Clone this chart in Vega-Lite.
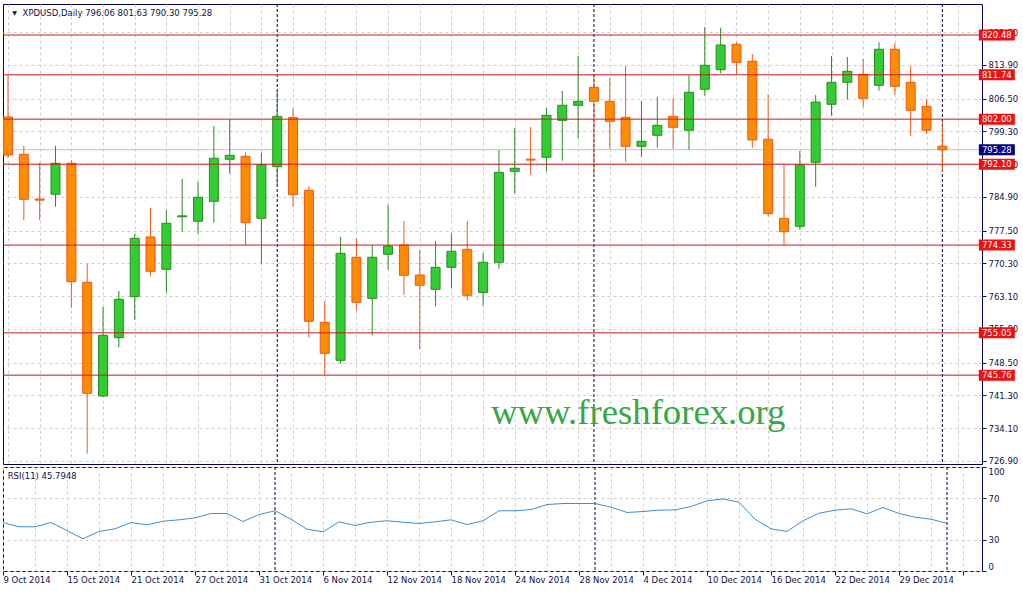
{
  "$schema": "https://vega.github.io/schema/vega-lite/v6.json",
  "padding": {"left": 2, "top": 3, "right": 0, "bottom": 0},
  "background": "white",
  "bounds": "flush",
  "spacing": 3,
  "config": {
    "view": {"stroke": "#000050", "strokeWidth": 1},
    "axis": {
      "labelFont": "DejaVu Sans",
      "labelFontSize": 8.5,
      "labelColor": "#10104a",
      "tickColor": "#10104a",
      "gridColor": "#cfcfcf",
      "gridDash": [3, 3],
      "gridWidth": 1,
      "labelOverlap": false
    }
  },
  "datasets": {
    "bars": [
      {"i": 0, "date": "2014-10-09", "o": 802.47, "h": 811.69, "l": 793.46, "c": 794.12, "rsi": 46.6},
      {"i": 1, "date": "2014-10-10", "o": 794.27, "h": 796.10, "l": 779.78, "c": 784.39, "rsi": 42.5},
      {"i": 2, "date": "2014-10-13", "o": 784.45, "h": 792.43, "l": 779.84, "c": 784.20, "rsi": 42.5},
      {"i": 3, "date": "2014-10-14", "o": 785.49, "h": 796.10, "l": 782.76, "c": 792.30, "rsi": 46.6},
      {"i": 4, "date": "2014-10-15", "o": 792.30, "h": 792.96, "l": 760.58, "c": 766.29, "rsi": 38.9},
      {"i": 5, "date": "2014-10-16", "o": 766.16, "h": 770.24, "l": 728.51, "c": 741.77, "rsi": 31.0},
      {"i": 6, "date": "2014-10-17", "o": 741.18, "h": 760.73, "l": 741.00, "c": 754.51, "rsi": 38.0},
      {"i": 7, "date": "2014-10-20", "o": 753.99, "h": 764.25, "l": 751.94, "c": 762.42, "rsi": 40.6},
      {"i": 8, "date": "2014-10-21", "o": 762.99, "h": 776.70, "l": 757.94, "c": 775.82, "rsi": 46.6},
      {"i": 9, "date": "2014-10-22", "o": 776.11, "h": 782.54, "l": 767.47, "c": 768.57, "rsi": 44.4},
      {"i": 10, "date": "2014-10-23", "o": 769.01, "h": 782.04, "l": 763.87, "c": 779.12, "rsi": 47.9},
      {"i": 11, "date": "2014-10-24", "o": 780.55, "h": 788.85, "l": 777.27, "c": 780.75, "rsi": 49.2},
      {"i": 12, "date": "2014-10-27", "o": 779.56, "h": 788.26, "l": 776.83, "c": 784.83, "rsi": 51.1},
      {"i": 13, "date": "2014-10-28", "o": 783.95, "h": 800.49, "l": 779.25, "c": 793.40, "rsi": 55.3},
      {"i": 14, "date": "2014-10-29", "o": 793.18, "h": 801.96, "l": 790.01, "c": 794.05, "rsi": 55.3},
      {"i": 15, "date": "2014-10-30", "o": 793.84, "h": 794.63, "l": 774.35, "c": 779.25, "rsi": 47.6},
      {"i": 16, "date": "2014-10-31", "o": 780.22, "h": 794.63, "l": 770.24, "c": 791.99, "rsi": 54.3},
      {"i": 17, "date": "2014-11-03", "o": 791.55, "h": 808.03, "l": 787.16, "c": 802.62, "rsi": 57.9},
      {"i": 18, "date": "2014-11-04", "o": 802.31, "h": 804.38, "l": 782.76, "c": 785.40, "rsi": 49.8},
      {"i": 19, "date": "2014-11-05", "o": 786.37, "h": 787.31, "l": 753.99, "c": 757.59, "rsi": 40.2},
      {"i": 20, "date": "2014-11-06", "o": 757.37, "h": 762.05, "l": 745.73, "c": 750.56, "rsi": 37.7},
      {"i": 21, "date": "2014-11-07", "o": 749.02, "h": 776.11, "l": 748.36, "c": 772.53, "rsi": 47.3},
      {"i": 22, "date": "2014-11-10", "o": 771.65, "h": 775.89, "l": 760.01, "c": 761.76, "rsi": 43.8},
      {"i": 23, "date": "2014-11-11", "o": 762.64, "h": 774.35, "l": 754.51, "c": 771.65, "rsi": 46.9},
      {"i": 24, "date": "2014-11-12", "o": 772.31, "h": 783.14, "l": 768.92, "c": 774.13, "rsi": 48.3},
      {"i": 25, "date": "2014-11-13", "o": 774.35, "h": 779.62, "l": 763.43, "c": 767.69, "rsi": 46.9},
      {"i": 26, "date": "2014-11-14", "o": 767.76, "h": 773.25, "l": 751.44, "c": 765.50, "rsi": 45.7},
      {"i": 27, "date": "2014-11-17", "o": 764.62, "h": 775.23, "l": 760.88, "c": 769.45, "rsi": 47.3},
      {"i": 28, "date": "2014-11-18", "o": 769.45, "h": 776.99, "l": 764.84, "c": 772.97, "rsi": 49.2},
      {"i": 29, "date": "2014-11-19", "o": 773.41, "h": 779.62, "l": 762.20, "c": 763.30, "rsi": 44.7},
      {"i": 30, "date": "2014-11-20", "o": 763.92, "h": 772.59, "l": 761.02, "c": 770.55, "rsi": 48.3},
      {"i": 31, "date": "2014-11-21", "o": 770.55, "h": 795.22, "l": 769.14, "c": 790.32, "rsi": 57.9},
      {"i": 32, "date": "2014-11-24", "o": 790.54, "h": 800.05, "l": 785.62, "c": 791.20, "rsi": 57.9},
      {"i": 33, "date": "2014-11-25", "o": 793.20, "h": 800.27, "l": 789.79, "c": 793.00, "rsi": 59.1},
      {"i": 34, "date": "2014-11-26", "o": 793.62, "h": 804.45, "l": 790.45, "c": 802.84, "rsi": 63.9},
      {"i": 35, "date": "2014-11-27", "o": 801.74, "h": 808.18, "l": 792.87, "c": 805.04, "rsi": 64.9},
      {"i": 36, "date": "2014-11-28", "o": 805.04, "h": 815.87, "l": 797.79, "c": 805.92, "rsi": 64.9},
      {"i": 37, "date": "2014-12-01", "o": 808.99, "h": 811.85, "l": 790.01, "c": 805.92, "rsi": 64.9},
      {"i": 38, "date": "2014-12-02", "o": 805.92, "h": 811.04, "l": 795.50, "c": 801.52, "rsi": 61.4},
      {"i": 39, "date": "2014-12-03", "o": 802.40, "h": 813.74, "l": 792.65, "c": 796.03, "rsi": 56.3},
      {"i": 40, "date": "2014-12-04", "o": 796.03, "h": 805.98, "l": 793.75, "c": 797.13, "rsi": 57.2},
      {"i": 41, "date": "2014-12-05", "o": 798.45, "h": 806.86, "l": 795.72, "c": 800.64, "rsi": 58.5},
      {"i": 42, "date": "2014-12-08", "o": 802.62, "h": 806.64, "l": 795.50, "c": 800.21, "rsi": 58.8},
      {"i": 43, "date": "2014-12-09", "o": 799.55, "h": 811.63, "l": 795.29, "c": 807.89, "rsi": 62.0},
      {"i": 44, "date": "2014-12-10", "o": 808.55, "h": 822.24, "l": 807.15, "c": 813.83, "rsi": 67.5},
      {"i": 45, "date": "2014-12-11", "o": 812.86, "h": 822.08, "l": 812.07, "c": 818.28, "rsi": 69.4},
      {"i": 46, "date": "2014-12-12", "o": 818.44, "h": 818.88, "l": 811.85, "c": 814.48, "rsi": 66.2},
      {"i": 47, "date": "2014-12-15", "o": 814.70, "h": 816.31, "l": 795.72, "c": 797.42, "rsi": 49.8},
      {"i": 48, "date": "2014-12-16", "o": 797.57, "h": 807.45, "l": 780.72, "c": 781.23, "rsi": 40.6},
      {"i": 49, "date": "2014-12-17", "o": 780.22, "h": 792.08, "l": 774.28, "c": 777.27, "rsi": 38.0},
      {"i": 50, "date": "2014-12-18", "o": 778.46, "h": 795.00, "l": 777.71, "c": 791.92, "rsi": 48.3},
      {"i": 51, "date": "2014-12-19", "o": 792.52, "h": 807.30, "l": 787.16, "c": 805.76, "rsi": 55.6},
      {"i": 52, "date": "2014-12-22", "o": 805.26, "h": 815.87, "l": 802.75, "c": 810.09, "rsi": 58.5},
      {"i": 53, "date": "2014-12-23", "o": 810.09, "h": 815.65, "l": 806.27, "c": 812.51, "rsi": 59.8},
      {"i": 54, "date": "2014-12-24", "o": 811.85, "h": 815.21, "l": 804.73, "c": 806.58, "rsi": 55.0},
      {"i": 55, "date": "2014-12-26", "o": 809.43, "h": 818.88, "l": 808.25, "c": 817.34, "rsi": 61.1},
      {"i": 56, "date": "2014-12-29", "o": 817.34, "h": 818.66, "l": 807.37, "c": 809.21, "rsi": 55.3},
      {"i": 57, "date": "2014-12-30", "o": 810.09, "h": 813.67, "l": 798.36, "c": 803.94, "rsi": 51.7},
      {"i": 58, "date": "2014-12-31", "o": 804.82, "h": 806.36, "l": 798.80, "c": 799.55, "rsi": 49.8},
      {"i": 59, "date": "2015-01-02", "o": 796.06, "h": 801.63, "l": 790.30, "c": 795.28, "rsi": 45.79}
    ],
    "levels": [
      {"v": 820.48, "kind": "level"},
      {"v": 811.74, "kind": "level"},
      {"v": 802.00, "kind": "level"},
      {"v": 792.10, "kind": "level"},
      {"v": 774.33, "kind": "level"},
      {"v": 755.05, "kind": "level"},
      {"v": 745.76, "kind": "level"},
      {"v": 795.28, "kind": "price"}
    ],
    "seps": [{"i": 17}, {"i": 37}, {"i": 59}]
  },
  "vconcat": [
    {
      "width": 979,
      "height": 460,
      "layer": [
        {
          "data": {"name": "levels"},
          "transform": [{"filter": "datum.kind == 'price'"}],
          "mark": {"type": "rule", "color": "#c4c4c4", "strokeWidth": 1},
          "encoding": {
            "y": {
              "field": "v", "type": "quantitative", "title": null,
              "scale": {"domain": [726.24, 827.29], "nice": false, "zero": false},
              "axis": {
                "orient": "right", "title": null,
                "values": [726.9, 734.1, 741.3, 748.5, 755.9, 763.1, 770.3, 777.5, 784.9, 792.1, 799.3, 806.5, 813.9, 821.1],
                "tickCount": 100,
                "format": ".2f", "grid": true, "tickSize": 4, "labelPadding": 2, "domain": false,
                "labelOverlap": false, "labelFlush": false, "labelBound": false
              }
            }
          }
        },
        {
          "data": {"name": "seps"},
          "mark": {"type": "rule", "color": "#000040", "strokeWidth": 1, "strokeDash": [3, 2]},
          "encoding": {
            "x": {"field": "i", "type": "quantitative", "title": null, "scale": {"domain": [0, 61.1875], "nice": false, "zero": false}}
          }
        },
        {
          "data": {"name": "bars"},
          "mark": {"type": "rule", "strokeWidth": 1, "clip": true},
          "encoding": {
            "x": {
              "field": "i", "type": "quantitative", "title": null,
              "scale": {"domain": [0, 61.1875], "nice": false, "zero": false},
              "axis": {
                "title": null, "values": [0, 2, 4, 6, 8, 10, 12, 14, 16, 18, 20, 22, 24, 26, 28, 30, 32, 34, 36, 38, 40, 42, 44, 46, 48, 50, 52, 54, 56, 58, 60],
                "tickCount": 100,
                "grid": true, "labels": false, "ticks": false, "domain": false
              }
            },
            "y": {"field": "l", "type": "quantitative", "title": null, "scale": {"domain": [726.24, 827.29], "nice": false, "zero": false}},
            "y2": {"field": "h"},
            "color": {"condition": {"test": "datum.c >= datum.o", "value": "#2a8a22"}, "value": "#ea5a1c"}
          }
        },
        {
          "data": {"name": "bars"},
          "mark": {"type": "bar", "size": 9, "strokeWidth": 1, "clip": true},
          "encoding": {
            "x": {"field": "i", "type": "quantitative", "title": null, "scale": {"domain": [0, 61.1875], "nice": false, "zero": false}},
            "y": {"field": "o", "type": "quantitative", "title": null, "scale": {"domain": [726.24, 827.29], "nice": false, "zero": false}},
            "y2": {"field": "c"},
            "fill": {"condition": {"test": "datum.c >= datum.o", "value": "#33cc33"}, "value": "#ff8c00"},
            "stroke": {"condition": {"test": "datum.c >= datum.o", "value": "#2a8a22"}, "value": "#ea5a1c"}
          }
        },
        {
          "data": {"name": "levels"},
          "transform": [{"filter": "datum.kind == 'level'"}],
          "mark": {"type": "rule", "color": "#cc1a1a", "strokeWidth": 1},
          "encoding": {
            "y": {"field": "v", "type": "quantitative", "title": null, "scale": {"domain": [726.24, 827.29], "nice": false, "zero": false}}
          }
        },
        {
          "data": {"name": "levels"},
          "mark": {"type": "tick", "orient": "horizontal", "size": 36, "thickness": 11, "opacity": 1},
          "encoding": {
            "x": {"datum": 62.44, "type": "quantitative", "scale": {"domain": [0, 61.1875], "nice": false, "zero": false}},
            "y": {"field": "v", "type": "quantitative", "title": null, "scale": {"domain": [726.24, 827.29], "nice": false, "zero": false}},
            "color": {"condition": {"test": "datum.kind == 'price'", "value": "#000080"}, "value": "#ee1111"}
          }
        },
        {
          "data": {"name": "levels"},
          "mark": {"type": "text", "color": "white", "font": "DejaVu Sans", "fontSize": 8.5, "align": "center", "baseline": "middle"},
          "encoding": {
            "x": {"datum": 62.44, "type": "quantitative", "scale": {"domain": [0, 61.1875], "nice": false, "zero": false}},
            "y": {"field": "v", "type": "quantitative", "title": null, "scale": {"domain": [726.24, 827.29], "nice": false, "zero": false}},
            "text": {"field": "v", "format": ".2f"}
          }
        },
        {
          "data": {"values": [{"t": "▼"}]},
          "mark": {"type": "text", "color": "#10104a", "font": "DejaVu Sans", "fontSize": 6, "align": "center", "baseline": "middle"},
          "encoding": {
            "x": {"datum": 0.41, "type": "quantitative", "scale": {"domain": [0, 61.1875], "nice": false, "zero": false}},
            "y": {"datum": 825.31, "type": "quantitative", "scale": {"domain": [726.24, 827.29], "nice": false, "zero": false}},
            "text": {"field": "t"}
          }
        },
        {
          "data": {"values": [{"t": "XPDUSD,Daily  796.06 801.63 790.30 795.28"}]},
          "mark": {"type": "text", "color": "#10104a", "font": "DejaVu Sans", "fontSize": 8.5, "align": "left", "baseline": "middle"},
          "encoding": {
            "x": {"datum": 0.92, "type": "quantitative", "scale": {"domain": [0, 61.1875], "nice": false, "zero": false}},
            "y": {"datum": 825.31, "type": "quantitative", "scale": {"domain": [726.24, 827.29], "nice": false, "zero": false}},
            "text": {"field": "t"}
          }
        },
        {
          "data": {"values": [{"t": "www.freshforex.org"}]},
          "mark": {"type": "text", "color": "#35a843", "font": "Liberation Serif", "fontSize": 36.7, "align": "left", "baseline": "alphabetic"},
          "encoding": {
            "x": {"datum": 30.5, "type": "quantitative", "scale": {"domain": [0, 61.1875], "nice": false, "zero": false}},
            "y": {"datum": 734.92, "type": "quantitative", "scale": {"domain": [726.24, 827.29], "nice": false, "zero": false}},
            "text": {"field": "t"}
          }
        }
      ]
    },
    {
      "width": 979,
      "height": 104,
      "layer": [
        {
          "data": {"name": "seps"},
          "mark": {"type": "rule", "color": "#000040", "strokeWidth": 1, "strokeDash": [3, 2]},
          "encoding": {
            "x": {"field": "i", "type": "quantitative", "title": null, "scale": {"domain": [0, 61.1875], "nice": false, "zero": false}}
          }
        },
        {
          "data": {"name": "bars"},
          "mark": {"type": "line", "color": "#3a8fd6", "strokeWidth": 1, "clip": true},
          "encoding": {
            "x": {
              "field": "i", "type": "quantitative", "title": null,
              "scale": {"domain": [0, 61.1875], "nice": false, "zero": false},
              "axis": {
                "title": null,
                "values": [0, 2, 4, 6, 8, 10, 12, 14, 16, 18, 20, 22, 24, 26, 28, 30, 32, 34, 36, 38, 40, 42, 44, 46, 48, 50, 52, 54, 56, 58, 60],
                "tickCount": 100,
                "grid": true, "ticks": true, "tickSize": 4, "domain": false,
                "tickOpacity": {"condition": {"test": "datum.value % 4 == 0", "value": 1}, "value": 0},
                "labelExpr": "datum.value % 4 == 0 ? ['9 Oct 2014','15 Oct 2014','21 Oct 2014','27 Oct 2014','31 Oct 2014','6 Nov 2014','12 Nov 2014','18 Nov 2014','24 Nov 2014','28 Nov 2014','4 Dec 2014','10 Dec 2014','16 Dec 2014','22 Dec 2014','29 Dec 2014',''][datum.value / 4] : ''",
                "labelAlign": "left", "labelPadding": 0, "labelOverlap": false, "labelFlush": false, "labelBound": false
              }
            },
            "y": {
              "field": "rsi", "type": "quantitative", "title": null,
              "scale": {"domain": [0, 100.02], "nice": false, "zero": false},
              "axis": {
                "orient": "right", "title": null, "values": [0, 30, 70, 100], "format": "d",
                "tickCount": 100,
                "grid": true, "tickSize": 4, "labelPadding": 2, "domain": false,
                "labelFlush": false, "labelBound": false, "labelOverlap": false,
                "labelBaseline": {"condition": [{"test": "datum.value == 100", "value": "top"}, {"test": "datum.value == 0", "value": "bottom"}], "value": "middle"}
              }
            }
          }
        },
        {
          "data": {"values": [{"t": "RSI(11) 45.7948"}]},
          "mark": {"type": "text", "color": "#10104a", "font": "DejaVu Sans", "fontSize": 8.5, "align": "left", "baseline": "middle"},
          "encoding": {
            "x": {"datum": 0.29, "type": "quantitative", "scale": {"domain": [0, 61.1875], "nice": false, "zero": false}},
            "y": {"datum": 91.8, "type": "quantitative", "scale": {"domain": [0, 100.02], "nice": false, "zero": false}},
            "text": {"field": "t"}
          }
        }
      ]
    }
  ]
}
